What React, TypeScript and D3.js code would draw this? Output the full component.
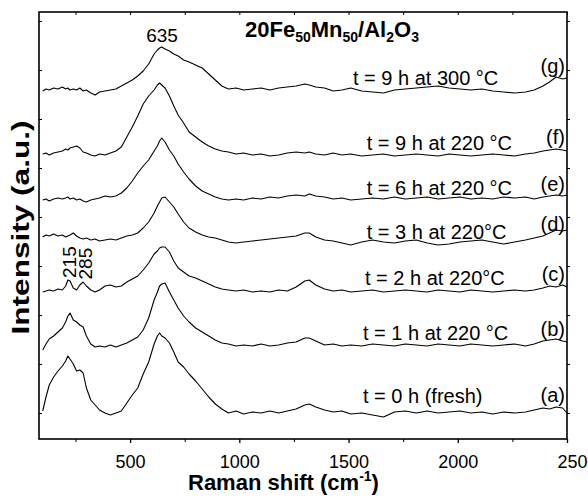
import React, { useEffect, useRef } from 'react'
import * as d3 from 'd3'

// Raman shift grid (cm-1), shared by all spectra
const shifts = [
  100, 115, 130, 150, 170, 190, 205, 215, 225, 240,
  255, 270, 285, 300, 320, 340, 360, 385, 410, 435,
  460, 485, 510, 535, 560, 585, 610, 625, 635, 645,
  660, 680, 700, 720, 745, 770, 800, 830, 860, 890,
  920, 950, 985, 1020, 1060, 1100, 1140, 1180, 1220, 1260,
  1300, 1320, 1350, 1390, 1430, 1470, 1510, 1560, 1610, 1660,
  1710, 1760, 1810, 1860, 1910, 1960, 2010, 2060, 2110, 2160,
  2210, 2260, 2310, 2350, 2390, 2420, 2450, 2480, 2500,
]

// stacked intensities (a.u.)
const fresh = [
  2, 16, 28, 36, 42, 47, 52, 57, 54, 49,
  42, 43, 40, 25, 13, 8, 3, 0, -2, 0,
  2, 10, 18, 25, 39, 51, 69, 77, 80, 77,
  75, 70, 61, 51, 46, 39, 32, 24, 16, 9,
  4, 0, 2, -1, 1, 0, 2, 0, 2, 4,
  8, 9, 6, 3, 1, 2, -1, 0, -2, -4,
  1, 2, 0, 2, 0, 1, 2, 0, 1, -1,
  1, 0, 1, 3, 5, 4, 6, 5, 0,
]
const h1at220 = [
  63, 69, 74, 77, 81, 85, 91, 97, 100, 93,
  91, 88, 86, 77, 69, 66, 67, 66, 68, 66,
  68, 70, 73, 76, 83, 95, 113, 121, 127, 129,
  130, 121, 113, 105, 97, 91, 85, 81, 77, 73,
  70, 69, 67, 68, 67, 69, 67, 68, 70, 71,
  75, 75, 72, 68, 69, 67, 68, 67, 69, 68,
  67, 69, 68, 67, 69, 68, 67, 69, 68, 67,
  68, 69, 67, 69, 72, 73, 74, 72, 71,
]
const h2at220 = [
  121, 122, 123, 122, 124, 123, 127, 133, 132, 125,
  123, 128, 131, 127, 123, 121, 123, 127, 128, 126,
  127, 131, 134, 137, 143, 150, 159, 162, 165, 166,
  166, 161, 152, 145, 141, 137, 135, 132, 129, 126,
  124, 123, 122, 123, 121, 122, 121, 123, 122, 126,
  132, 133, 128, 124, 122, 123, 121, 122, 123, 121,
  122, 123, 122, 121, 123, 122, 121, 123, 122, 121,
  122, 123, 122, 123, 125, 127, 126, 128, 126,
]
const h3at220 = [
  176, 178, 177, 179, 177, 178, 176, 177, 178, 180,
  177, 175, 174, 175, 173, 174, 172, 173, 174, 173,
  175, 177, 178, 180, 185, 191, 200, 207, 211, 215,
  216, 211, 206, 199, 191, 185, 181, 178, 176, 175,
  173, 171, 170, 171, 172, 173, 174, 175, 176, 177,
  180, 180, 176, 173, 172, 170, 168, 171, 173, 171,
  170, 172, 173, 170, 168, 169, 171, 172, 173, 171,
  169, 171, 173, 175, 177, 180, 183, 182, 183,
]
const h6at220 = [
  213, 214, 212, 214, 215, 214, 215, 216, 214, 215,
  213, 214, 212, 211, 213, 214, 215, 217, 216, 217,
  220, 225, 232, 240, 247, 253, 262, 267, 272, 275,
  271, 263, 257, 249, 241, 234, 227, 222, 219, 216,
  214, 213, 214, 213, 215, 214, 216, 215, 217, 218,
  217, 219, 217, 216, 214, 215, 213, 214, 215, 214,
  216, 214, 215, 216, 214, 215, 216, 214, 215, 214,
  216, 215, 216, 214, 216, 217, 218, 217, 218,
]
const h9at220 = [
  259, 260, 258, 260, 261, 262, 264, 263, 265, 266,
  267, 265, 261, 260, 258, 257, 259, 258, 260, 262,
  266, 276, 286, 297, 309, 317, 323, 328, 330, 328,
  325, 317, 307, 298, 290, 281, 276, 271, 267, 264,
  262, 261, 259, 260, 258, 259, 257, 258, 260, 261,
  260, 261, 259, 258, 260, 258, 259, 257, 258, 259,
  257, 258, 259, 258, 257, 259, 258, 257, 258, 259,
  258, 257, 259, 260, 262, 263, 264, 263, 262,
]
const h9at300 = [
  322, 324, 323, 325, 324, 326, 324, 325, 323, 324,
  323, 325, 322, 323, 320, 318, 321, 322, 323, 324,
  327, 330, 333, 337, 342, 349, 359, 363, 365, 366,
  364, 362, 359, 357, 353, 351, 348, 345, 339, 333,
  327, 324, 325, 323, 324, 325, 323, 325, 326, 327,
  329, 328, 326, 325, 322, 323, 325, 322, 321, 320,
  323, 324, 325, 326, 327, 325, 324, 323, 324, 322,
  321, 320, 321, 323, 327, 331, 336, 334, 335,
]

const spectra = [fresh, h1at220, h2at220, h3at220, h6at220, h9at220, h9at300]
const xMajor = [500, 1000, 1500, 2000, 2500]
const xMinor = [250, 750, 1250, 1750, 2250]
const yTicks = [0, 49, 98, 147, 196, 245, 294, 343, 392]

const FONT = '"Liberation Sans", Arial, sans-serif'

export default function App() {
  const gRef = useRef<SVGGElement>(null)

  useEffect(() => {
    const g = d3.select(gRef.current)
    const x = d3.scaleLinear().domain([83, 2500]).range([39, 567])
    const y = d3.scaleLinear().domain([-26, 401]).range([439, 12])

    const line = d3.line<number>()
      .x((_, i) => x(shifts[i]))
      .y(d => y(d))

    g.selectAll('path.spec')
      .data(spectra)
      .join('path')
      .attr('class', 'spec')
      .attr('d', d => line(d))
      .attr('fill', 'none')
      .attr('stroke', '#000')
      .attr('stroke-width', 1.1)
      .attr('stroke-linejoin', 'round')

    const bottom = g.append('g').attr('transform', 'translate(0,439)')
      .call(d3.axisBottom(x).tickValues(xMajor).tickSize(4).tickPadding(12).tickFormat(d3.format('d')))
    bottom.select('.domain').remove()
    bottom.selectAll('text').attr('font-size', 18).attr('font-family', FONT).attr('fill', '#000')
    bottom.selectAll<SVGTextElement, number>('text').filter(d => d === 2500).attr('dx', 10)
    bottom.selectAll('line').attr('stroke-width', 1.3)

    const minor = g.append('g').attr('transform', 'translate(0,439)')
      .call(d3.axisBottom(x).tickValues(xMinor).tickSize(3).tickFormat(() => ''))
    minor.select('.domain').remove()

    const top = g.append('g').attr('transform', 'translate(0,12)')
      .call(d3.axisTop(x).tickValues([...xMajor, ...xMinor]).tickSize(-3).tickFormat(() => ''))
    top.select('.domain').remove()

    const left = g.append('g').attr('transform', 'translate(39,0)')
      .call(d3.axisLeft(y).tickValues(yTicks).tickSize(-3).tickFormat(() => ''))
    left.select('.domain').remove()

    const right = g.append('g').attr('transform', 'translate(567,0)')
      .call(d3.axisRight(y).tickValues(yTicks).tickSize(3).tickFormat(() => ''))
    right.select('.domain').remove()

    g.append('rect')
      .attr('x', 39).attr('y', 12).attr('width', 528).attr('height', 427)
      .attr('fill', 'none').attr('stroke', '#000').attr('stroke-width', 1.6)

    return () => { g.selectAll('*').remove() }
  }, [])

  const lab = { fontSize: 20, fontFamily: FONT, fill: '#000' } as const

  return (
    <svg width={588} height={498} style={{ position: 'absolute', left: 0, top: 0, background: '#fff' }}>
      <g ref={gRef} />
      <text x={245} y={36.7} fontFamily={FONT} fontWeight="bold" fontSize={22}>
        20Fe<tspan fontSize={14} dy={5}>50</tspan>
        <tspan dy={-5}>Mn</tspan><tspan fontSize={14} dy={5}>50</tspan>
        <tspan dy={-5}>/Al</tspan><tspan fontSize={14} dy={5}>2</tspan>
        <tspan dy={-5}>O</tspan><tspan fontSize={14} dy={5}>3</tspan>
      </text>
      <text x={162} y={42} textAnchor="middle" style={{ ...lab, fontSize: 19 }}>635</text>
      <text transform="translate(76,278) rotate(-90)" style={{ ...lab, fontSize: 19 }}>215</text>
      <text transform="translate(91.5,279.5) rotate(-90)" style={{ ...lab, fontSize: 19 }}>285</text>

      <text x={353} y={85} style={lab}>t = 9 h at 300 °C</text>
      <text x={366.7} y={150} style={lab}>t = 9 h at 220 °C</text>
      <text x={366.7} y={195} style={lab}>t = 6 h at 220 °C</text>
      <text x={366.7} y={239} style={lab}>t = 3 h at 220°C</text>
      <text x={365} y={285} style={lab}>t = 2 h at 220°C</text>
      <text x={363} y={340} style={lab}>t = 1 h at 220 °C</text>
      <text x={363} y={403} style={lab}>t = 0 h (fresh)</text>

      <text x={565} y={73} textAnchor="end" style={lab}>(g)</text>
      <text x={565} y={144} textAnchor="end" style={lab}>(f)</text>
      <text x={565} y={191} textAnchor="end" style={lab}>(e)</text>
      <text x={565} y={231} textAnchor="end" style={lab}>(d)</text>
      <text x={565} y={281} textAnchor="end" style={lab}>(c)</text>
      <text x={565} y={336} textAnchor="end" style={lab}>(b)</text>
      <text x={565} y={402} textAnchor="end" style={lab}>(a)</text>

      <text x={188} y={490} fontFamily={FONT} fontWeight="bold" fontSize={22}>
        Raman shift (cm<tspan fontSize={14} dy={-9}>-1</tspan><tspan dy={9}>)</tspan>
      </text>
      <text transform="translate(29,227.5) rotate(-90)" textAnchor="middle" fontFamily={FONT}
        fontWeight="bold" fontSize={24} textLength={214} lengthAdjust="spacingAndGlyphs">
        Intensity (a.u.)
      </text>
    </svg>
  )
}
